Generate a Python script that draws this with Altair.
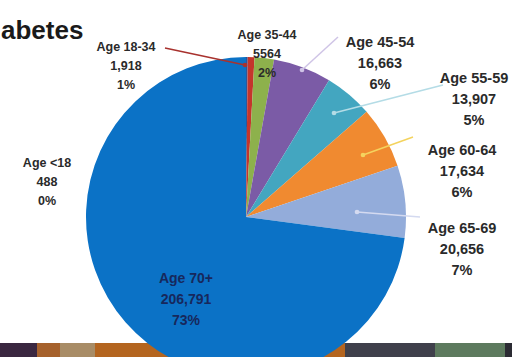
import altair as alt
import pandas as pd

# ---- data ----
categories = ["Age <18", "Age 18-34", "Age 35-44", "Age 45-54", "Age 55-59",
              "Age 60-64", "Age 65-69", "Age 70+"]
counts = [488, 1918, 5564, 16663, 13907, 17634, 20656, 206791]
count_labels = ["488", "1,918", "5564", "16,663", "13,907", "17,634", "20,656", "206,791"]
pct_labels = ["0%", "1%", "2%", "6%", "5%", "6%", "7%", "73%"]
slice_colors = ["#2F5597", "#C4352C", "#8DB14C", "#7B5BA6", "#43A6C0",
                "#F08A30", "#93ACDA", "#0B72C6"]
title_text = "abetes"

# ---- layout (pixel positions) ----
W, H = 512, 357
CX, CY, R = 246, 217, 160
label_pos = {  # centre x, middle-line y
    "Age <18": (47, 163),
    "Age 18-34": (126, 47),
    "Age 35-44": (267, 35),
    "Age 45-54": (380, 43),
    "Age 55-59": (474, 79),
    "Age 60-64": (462, 151),
    "Age 65-69": (462, 229),
    "Age 70+": (186, 279),
}
leaders = [  # label side -> slice side, colour
    ("Age 18-34", 165, 48, 245, 65, "#A8322E"),
    ("Age 45-54", 338, 37, 302, 70, "#CFC4E6"),
    ("Age 55-59", 443, 85, 334, 113, "#B4DCE6"),
    ("Age 60-64", 413, 137, 363, 155, "#F4D35E"),
    ("Age 65-69", 420, 217, 357, 212, "#D4DAF0"),
]
strip = [  # x0, x1, colour
    (0, 37, "#3A2740"), (37, 60, "#A6612C"), (60, 95, "#A88C66"),
    (95, 345, "#B4651F"), (345, 435, "#3F404B"), (435, 505, "#5D7A5E"),
    (505, 512, "#2B2B33"),
]
STRIP_Y = 343

pie_df = pd.DataFrame({
    "cat": categories, "value": counts, "idx": list(range(len(categories))),
})

lab_rows = []
for c, n, p in zip(categories, count_labels, pct_labels):
    x, y = label_pos[c]
    lab_rows.append({"cat": c, "text": f"{c}\n{n}\n{p}", "x": x, "y": y})
lab_df = pd.DataFrame(lab_rows)

lead_df = pd.DataFrame([
    {"cat": c, "x": x0, "y": y0, "x2": x1, "y2": y1, "col": col}
    for c, x0, y0, x1, y1, col in leaders
])
strip_df = pd.DataFrame([
    {"x": a, "x2": b, "y": STRIP_Y, "y2": H, "col": col} for a, b, col in strip
])

strip_layer = alt.Chart(strip_df).mark_rect().encode(
    x=alt.X("x:Q", scale=None), x2="x2:Q",
    y=alt.Y("y:Q", scale=None), y2="y2:Q",
    color=alt.Color("col:N", scale=None),
)

pie = alt.Chart(pie_df).mark_arc(radius=R).encode(
    theta=alt.Theta("value:Q", stack=True),
    color=alt.Color("cat:N", scale=alt.Scale(domain=categories, range=slice_colors), legend=None),
    order=alt.Order("idx:Q"),
    x=alt.value(CX), y=alt.value(CY),
)

lines = alt.Chart(lead_df).mark_rule(strokeWidth=1.5).encode(
    x=alt.X("x:Q", scale=None), y=alt.Y("y:Q", scale=None),
    x2="x2:Q", y2="y2:Q",
    color=alt.Color("col:N", scale=None),
)
dots = alt.Chart(lead_df).mark_circle(size=22, opacity=1).encode(
    x=alt.X("x2:Q", scale=None), y=alt.Y("y2:Q", scale=None),
    color=alt.Color("col:N", scale=None),
)

def label_layer(cats, size, lh, color):
    d = lab_df[lab_df["cat"].isin(cats)]
    return alt.Chart(d).mark_text(
        lineBreak="\n", fontSize=size, lineHeight=lh, fontWeight="bold",
        font="Liberation Sans", align="center", baseline="middle", color=color,
    ).encode(x=alt.X("x:Q", scale=None), y=alt.Y("y:Q", scale=None), text="text:N")

small = label_layer(["Age <18", "Age 18-34", "Age 35-44"], 12.5, 19, "#2A2A2A")
big = label_layer(["Age 45-54", "Age 55-59", "Age 60-64", "Age 65-69"], 14.5, 21, "#2A2A2A")
inner = label_layer(["Age 70+"], 14, 21, "#17285C")

title_df = pd.DataFrame({"t": [title_text], "x": [1], "y": [39]})
title = alt.Chart(title_df).mark_text(
    fontSize=26, fontWeight="bold", font="Liberation Sans",
    align="left", baseline="alphabetic", color="#1A1A1A",
).encode(x=alt.X("x:Q", scale=None), y=alt.Y("y:Q", scale=None), text="t:N")

chart = alt.layer(strip_layer, pie, lines, dots, small, big, inner, title).properties(
    width=W, height=H, padding=0, autosize="none", background="white",
).configure_view(stroke=None)

chart.save("out.html", embed_options={"renderer": "svg", "actions": False})
